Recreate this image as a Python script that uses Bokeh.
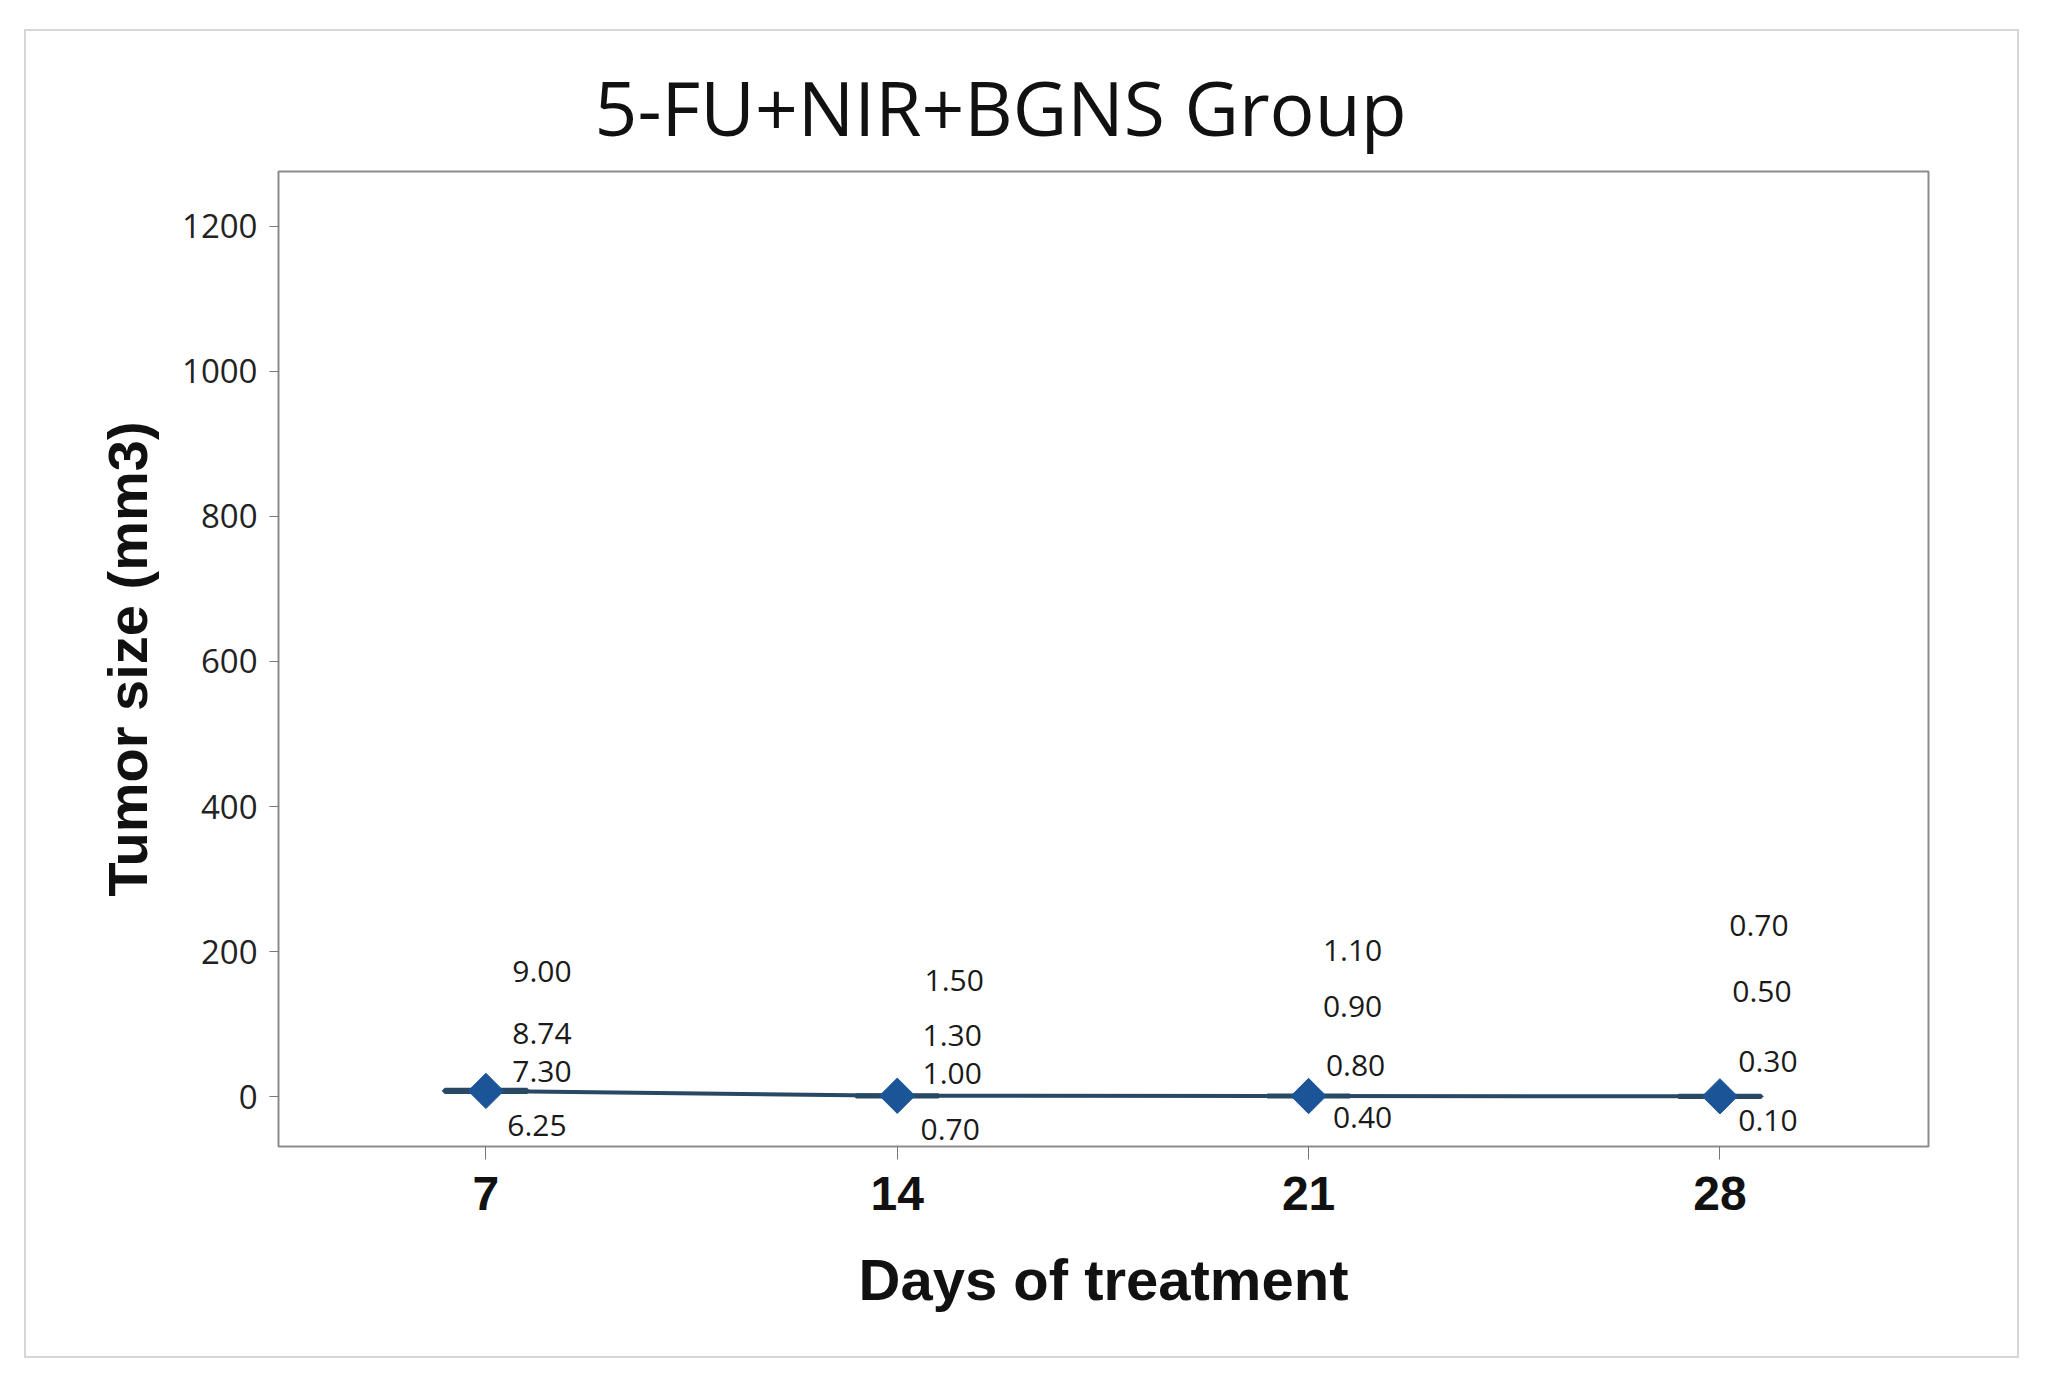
import numpy as np
from bokeh.plotting import figure
from bokeh.models import ColumnDataSource, Title, FixedTicker, Range1d
from bokeh.embed import file_html
from bokeh.resources import INLINE

# ---- data ----
days = [7, 14, 21, 28]
values = {
    7: [6.25, 7.30, 8.74, 9.00],
    14: [0.70, 1.00, 1.30, 1.50],
    21: [0.40, 0.80, 0.90, 1.10],
    28: [0.10, 0.30, 0.50, 0.70],
}
y_ticks = [0, 200, 400, 600, 800, 1000, 1200]

# label placement (screen pixels, relative to group mean), per value ascending
label_dx = {7: [51, 56, 56, 56], 14: [53, 55, 55, 57], 21: [54, 47, 44, 44], 28: [48, 48, 42, 39]}
label_dy = {7: [35, -19, -57, -119], 14: [34, -22, -60, -115], 21: [21, -31, -90, -146], 28: [24, -35, -105, -171]}

means = [float(np.mean(values[d])) for d in days]
q1 = [float(np.percentile(values[d], 25)) for d in days]
q3 = [float(np.percentile(values[d], 75)) for d in days]

W, H = 1995, 1329
p = figure(width=W, height=H, output_backend="svg", toolbar_location=None,
           x_range=Range1d(3.47, 31.55), y_range=Range1d(-68.8, 1275.6),
           min_border_left=252, min_border_right=93, min_border_top=140, min_border_bottom=214)
p.styles = {"border": "2px solid #d6d6d6", "margin-left": "24px", "margin-top": "29px"}

p.title = Title(text="5-FU+NIR+BGNS Group", align="left", offset=316,
                text_font="Open Sans", text_font_size="75px", text_font_style="normal",
                text_color="#111111", standoff=28)

p.grid.visible = False
p.outline_line_color = "#8c8c8c"
p.outline_line_width = 2

# axes
p.xaxis.ticker = FixedTicker(ticks=days)
p.yaxis.ticker = FixedTicker(ticks=y_ticks)
p.xaxis.minor_tick_line_color = None
p.yaxis.minor_tick_line_color = None
for ax in (p.xaxis, p.yaxis):
    ax.axis_line_color = None
    ax.major_tick_line_color = "#777777"
    ax.major_tick_line_width = 1
    ax.major_tick_in = 0
p.xaxis.major_tick_out = 13
p.yaxis.major_tick_out = 9

p.xaxis.major_label_text_font = "Liberation Sans"
p.xaxis.major_label_text_font_style = "bold"
p.xaxis.major_label_text_font_size = "48px"
p.xaxis.major_label_text_color = "#111111"
p.xaxis.major_label_standoff = 17
p.xaxis.axis_label = "Days of treatment"
p.xaxis.axis_label_text_font = "Liberation Sans"
p.xaxis.axis_label_text_font_style = "bold"
p.xaxis.axis_label_text_font_size = "58px"
p.xaxis.axis_label_text_color = "#111111"
p.xaxis.axis_label_standoff = 34

p.yaxis.major_label_text_font = "Open Sans"
p.yaxis.major_label_text_font_size = "33px"
p.yaxis.major_label_text_color = "#222222"
p.yaxis.major_label_standoff = 12
p.yaxis.axis_label = "Tumor size (mm3)"
p.yaxis.axis_label_text_font = "Liberation Sans"
p.yaxis.axis_label_text_font_style = "bold"
p.yaxis.axis_label_text_font_size = "56px"
p.yaxis.axis_label_text_color = "#111111"
p.yaxis.axis_label_standoff = 20

line_col = "#284864"
marker_col = "#1b5597"

# flat boxes (q1-q3) at each day
p.quad(left=[d - 0.7 for d in days], right=[d + 0.7 for d in days], bottom=q1, top=q3,
       fill_color=line_col, line_color=line_col, line_width=5)
# mean connect line
p.line(days, means, line_color=line_col, line_width=4)
# mean markers
p.scatter(days, means, marker="square", angle=np.pi / 4, size=25,
          fill_color=marker_col, line_color=marker_col)

# value labels
lx, ly, lt, dx, dy = [], [], [], [], []
for d, m in zip(days, means):
    for v, ox, oy in zip(values[d], label_dx[d], label_dy[d]):
        lx.append(d); ly.append(m); lt.append(f"{v:.2f}"); dx.append(ox); dy.append(oy)
src = ColumnDataSource(dict(x=lx, y=ly, text=lt, dx=dx, dy=dy))
p.text(x="x", y="y", text="text", x_offset="dx", y_offset="dy", source=src,
       text_font={"value": "Open Sans"}, text_font_size="30px", text_color="#1a1a1a",
       text_align="center", text_baseline="middle")

open("out.html", "w").write(file_html(p, INLINE))
